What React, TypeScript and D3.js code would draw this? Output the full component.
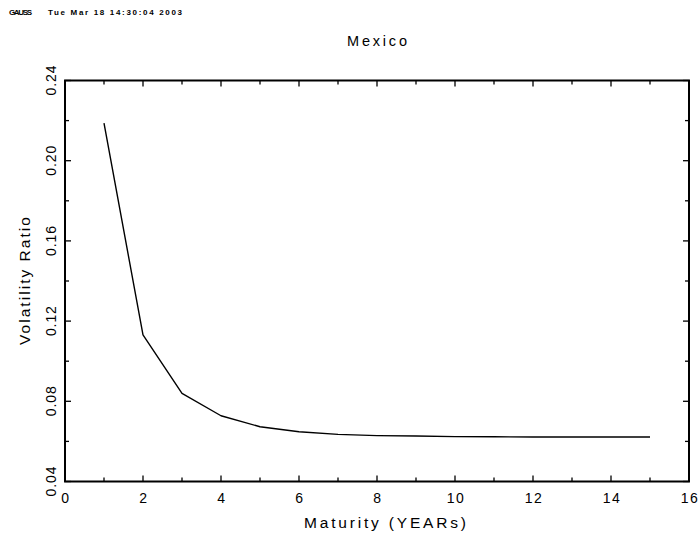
import React from "react";
import * as d3 from "d3";

const maturities = [1, 2, 3, 4, 5, 6, 7, 8, 9, 10, 11, 12, 13, 14, 15];
const volRatio = [0.2187, 0.1131, 0.084, 0.0728, 0.0673, 0.0648, 0.0635, 0.0629, 0.0627, 0.0624, 0.0623, 0.0622, 0.0622, 0.0622, 0.0622];
const xTickLabels = ["0", "2", "4", "6", "8", "10", "12", "14", "16"];
const yTickLabels = ["0.04", "0.08", "0.12", "0.16", "0.20", "0.24"];

const W = 700, H = 541;
const L = 65, R = 689, T = 80.5, B = 481.5;
const FONT = "'Liberation Sans', Arial, sans-serif";

export default function App() {
  const x = d3.scaleLinear().domain([0, 16]).range([L, R]);
  const y = d3.scaleLinear().domain([0.04, 0.24]).range([B, T]);
  const line = d3.line<number>().x((_, i) => x(maturities[i])).y((d) => y(d));

  const xMinor = d3.range(0, 17, 1);
  const yMinor = d3.range(0, 11).map((i) => 0.04 + i * 0.02);
  const major = 6, minor = 4;

  return (
    <svg width={W} height={H} style={{ position: "absolute", left: 0, top: 0, background: "#fff" }}>
      <rect width={W} height={H} fill="#fff" />
      <text x={9} y={15} fontFamily={FONT} fontWeight="bold" fontSize={8} textLength={23} lengthAdjust="spacing">GAUSS</text>
      <text x={48} y={15} fontFamily={FONT} fontWeight="bold" fontSize={8} textLength={134} lengthAdjust="spacing">Tue Mar 18 14:30:04 2003</text>
      <text x={(L + R) / 2} y={46} textAnchor="middle" fontFamily={FONT} fontSize={14.5} textLength={60} lengthAdjust="spacing">Mexico</text>

      {xMinor.map((v, i) => {
        const len = i % 2 === 0 ? major : minor;
        return (
          <g key={"xt" + i} stroke="#000" strokeWidth={1.3}>
            <line x1={x(v)} x2={x(v)} y1={B} y2={B - len} />
            <line x1={x(v)} x2={x(v)} y1={T} y2={T + len} />
          </g>
        );
      })}
      {yMinor.map((v, i) => {
        const len = i % 2 === 0 ? major : minor;
        return (
          <g key={"yt" + i} stroke="#000" strokeWidth={1.3}>
            <line x1={L} x2={L + len} y1={y(v)} y2={y(v)} />
            <line x1={R} x2={R - len} y1={y(v)} y2={y(v)} />
          </g>
        );
      })}

      <rect x={L} y={T} width={R - L} height={B - T} fill="none" stroke="#000" strokeWidth={2} />

      <path d={line(volRatio) || ""} fill="none" stroke="#000" strokeWidth={1.4} strokeLinejoin="round" />

      {xTickLabels.map((t) => (
        <text key={"xl" + t} x={x(+t) + 1} y={503} textAnchor="middle" fontFamily={FONT} fontSize={14} letterSpacing={1.5}>{t}</text>
      ))}
      {yTickLabels.map((t) => (
        <text key={"yl" + t} transform={`translate(56,${y(+t)}) rotate(-90)`} textAnchor="middle" fontFamily={FONT} fontSize={14} textLength={30} lengthAdjust="spacing">{t}</text>
      ))}

      <text x={(L + R) / 2 + 8} y={528} textAnchor="middle" fontFamily={FONT} fontSize={15.5} textLength={162} lengthAdjust="spacing">Maturity (YEARs)</text>
      <text transform={`translate(30,${(T + B) / 2}) rotate(-90)`} textAnchor="middle" fontFamily={FONT} fontSize={15.5} textLength={128} lengthAdjust="spacing">Volatility Ratio</text>
    </svg>
  );
}
